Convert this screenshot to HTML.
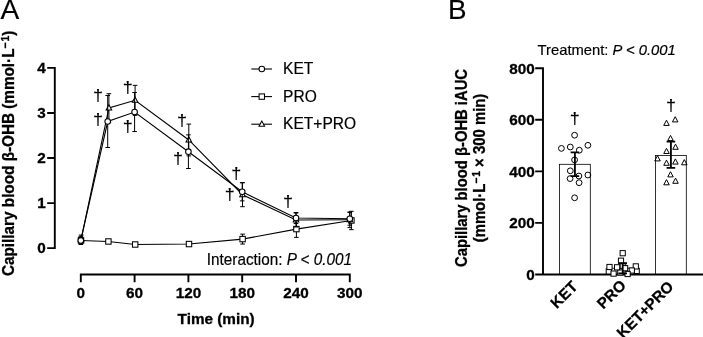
<!DOCTYPE html>
<html><head><meta charset="utf-8"><title>Figure</title>
<style>
html,body{margin:0;padding:0;background:#fff;}
body{width:703px;height:337px;overflow:hidden;}
svg{display:block;font-family:"Liberation Sans",Arial,sans-serif;fill:#000;}
.b{font-weight:bold;font-size:15px;}
.r{font-size:15px;}
.ax{stroke:#000;stroke-width:1.9;fill:none;stroke-linecap:butt;}
.ln{stroke:#000;stroke-width:1.1;fill:none;}
.eb{stroke:#000;stroke-width:1;fill:none;}
.sy{stroke:#000;stroke-width:1.05;fill:#fff;}
.sb{stroke:#000;stroke-width:1;fill:none;}
.bar{stroke:#000;stroke-width:0.8;fill:#fff;}
.ebb{stroke:#000;stroke-width:1.85;fill:none;}
</style></head><body>
<svg width="703" height="337" viewBox="0 0 703 337">
<rect x="0" y="0" width="703" height="337" fill="#fff"/>

<text transform="translate(0.50,19.40) scale(1.0,0.99)" text-anchor="start" font-size="28.1" stroke="#000" stroke-width="0.18">A</text>
<text transform="translate(448.00,19.40) scale(1.0,0.99)" text-anchor="start" font-size="27.8" stroke="#000" stroke-width="0.18">B</text>
<path class="ax" d="M47.2,67.9H55.55M47.2,113.0H55.55M47.2,158.0H55.55M47.2,203.1H55.55M47.2,248.1H55.55M54.8,66.95V249.05"/>
<path class="ax" d="M79.85,274.5H350.75M80.80,274.5V282.3M134.60,274.5V282.3M188.40,274.5V282.3M242.20,274.5V282.3M296.00,274.5V282.3M349.80,274.5V282.3"/>
<text transform="translate(45.70,253.35) scale(1.0,1.0)" text-anchor="end" font-size="15.3" font-weight="bold" stroke="#000" stroke-width="0.3">0</text>
<text transform="translate(45.70,208.30) scale(1.0,1.0)" text-anchor="end" font-size="15.3" font-weight="bold" stroke="#000" stroke-width="0.3">1</text>
<text transform="translate(45.70,163.25) scale(1.0,1.0)" text-anchor="end" font-size="15.3" font-weight="bold" stroke="#000" stroke-width="0.3">2</text>
<text transform="translate(45.70,118.20) scale(1.0,1.0)" text-anchor="end" font-size="15.3" font-weight="bold" stroke="#000" stroke-width="0.3">3</text>
<text transform="translate(45.70,73.15) scale(1.0,1.0)" text-anchor="end" font-size="15.3" font-weight="bold" stroke="#000" stroke-width="0.3">4</text>
<text transform="translate(80.80,297.60) scale(1.0,1.0)" text-anchor="middle" font-size="15.3" font-weight="bold" stroke="#000" stroke-width="0.3">0</text>
<text transform="translate(134.60,297.60) scale(1.0,1.0)" text-anchor="middle" font-size="15.3" font-weight="bold" stroke="#000" stroke-width="0.3">60</text>
<text transform="translate(188.40,297.60) scale(1.0,1.0)" text-anchor="middle" font-size="15.3" font-weight="bold" stroke="#000" stroke-width="0.3">120</text>
<text transform="translate(242.20,297.60) scale(1.0,1.0)" text-anchor="middle" font-size="15.3" font-weight="bold" stroke="#000" stroke-width="0.3">180</text>
<text transform="translate(296.00,297.60) scale(1.0,1.0)" text-anchor="middle" font-size="15.3" font-weight="bold" stroke="#000" stroke-width="0.3">240</text>
<text transform="translate(349.80,297.60) scale(1.0,1.0)" text-anchor="middle" font-size="15.3" font-weight="bold" stroke="#000" stroke-width="0.3">300</text>
<text transform="translate(216.10,323.60) scale(1.0,1.0)" text-anchor="middle" font-size="15.3" font-weight="bold" stroke="#000" stroke-width="0.3">Time (min)</text>
<text transform="translate(14.20,153.30) rotate(-90) scale(1.0,1.05)" text-anchor="middle" font-size="15.3" font-weight="bold" stroke="#000" stroke-width="0.3">Capillary blood β-OHB (mmol·L<tspan dy="-4.9" font-size="10.4">−<tspan dx="0.9">1</tspan></tspan><tspan dy="4.9">)</tspan></text>
<text transform="translate(352.00,265.30) scale(1.0,1.04)" text-anchor="end" font-size="15.3" stroke="#000" stroke-width="0.18">Interaction: <tspan font-style="italic">P &lt; 0.001</tspan></text>
<path class="ln" d="M251.3,69.00H272"/>
<circle class="sy" cx="261.8" cy="69.00" r="2.8"/>
<text transform="translate(283.10,74.15) scale(1.037,1.04)" text-anchor="start" font-size="15.0" stroke="#000" stroke-width="0.18">KET</text>
<path class="ln" d="M251.3,96.60H272"/>
<rect class="sy" x="259.1" y="93.90" width="5.4" height="5.4"/>
<text transform="translate(283.10,101.75) scale(1.037,1.04)" text-anchor="start" font-size="15.0" stroke="#000" stroke-width="0.18">PRO</text>
<path class="ln" d="M251.3,124.20H272"/>
<path class="sy" d="M261.8,121.00L264.6,126.20H259.0Z"/>
<text transform="translate(283.10,129.35) scale(1.037,1.04)" text-anchor="start" font-size="15.0" stroke="#000" stroke-width="0.18">KET+PRO</text>
<path class="eb" d="M81.00,237.29V243.59M78.70,237.29h4.6M78.70,243.59h4.6M108.40,240.13V242.83M106.10,240.13h4.6M106.10,242.83h4.6M135.20,243.59V245.40M132.90,243.59h4.6M132.90,245.40h4.6M189.00,243.14V244.95M186.70,243.14h4.6M186.70,244.95h4.6M242.60,234.13V244.05M240.30,234.13h4.6M240.30,244.05h4.6M296.40,220.80V237.38M294.10,220.80h4.6M294.10,237.38h4.6M351.40,211.29V229.67M349.10,211.29h4.6M349.10,229.67h4.6"/>
<path class="ln" d="M81.00,240.44L108.40,241.48L135.20,244.50L189.00,244.05L242.60,239.09L296.40,229.09L351.40,220.48"/>
<rect class="sy" x="78.30" y="237.74" width="5.4" height="5.4"/>
<rect class="sy" x="105.70" y="238.78" width="5.4" height="5.4"/>
<rect class="sy" x="132.50" y="241.80" width="5.4" height="5.4"/>
<rect class="sy" x="186.30" y="241.35" width="5.4" height="5.4"/>
<rect class="sy" x="239.90" y="236.39" width="5.4" height="5.4"/>
<rect class="sy" x="293.70" y="226.39" width="5.4" height="5.4"/>
<rect class="sy" x="348.70" y="217.78" width="5.4" height="5.4"/>
<path class="eb" d="M81.20,235.04V242.69M78.90,235.04h4.6M78.90,242.69h4.6M108.90,93.71V122.28M106.60,93.71h4.6M106.60,122.28h4.6M135.10,85.33V115.34M132.80,85.33h4.6M132.80,115.34h4.6M188.80,124.08V155.88M186.50,124.08h4.6M186.50,155.88h4.6M242.50,182.73V206.70M240.20,182.73h4.6M240.20,206.70h4.6M296.00,213.01V226.97M293.70,213.01h4.6M293.70,226.97h4.6M349.80,212.01V227.60M347.50,212.01h4.6M347.50,227.60h4.6"/>
<path class="ln" d="M81.20,238.86L108.90,107.99L135.10,100.34L188.80,139.98L242.50,194.72L296.00,219.99L349.80,219.81"/>
<path class="sy" d="M81.20,235.66L84.00,240.86H78.40Z"/>
<path class="sy" d="M108.90,104.79L111.70,109.99H106.10Z"/>
<path class="sy" d="M135.10,97.14L137.90,102.34H132.30Z"/>
<path class="sy" d="M188.80,136.78L191.60,141.98H186.00Z"/>
<path class="sy" d="M242.50,191.52L245.30,196.72H239.70Z"/>
<path class="sy" d="M296.00,216.79L298.80,221.99H293.20Z"/>
<path class="sy" d="M349.80,216.61L352.60,221.81H347.00Z"/>
<path class="eb" d="M80.80,236.39V244.50M78.50,236.39h4.6M78.50,244.50h4.6M107.70,95.52V147.50M105.40,95.52h4.6M105.40,147.50h4.6M134.60,92.54V131.56M132.30,92.54h4.6M132.30,131.56h4.6M188.40,134.89V168.50M186.10,134.89h4.6M186.10,168.50h4.6M242.20,182.69V200.89M239.90,182.69h4.6M239.90,200.89h4.6M296.00,212.56V223.55M293.70,212.56h4.6M293.70,223.55h4.6M349.80,212.42V225.21M347.50,212.42h4.6M347.50,225.21h4.6"/>
<path class="ln" d="M80.80,240.44L107.70,121.51L134.60,112.05L188.40,151.69L242.20,191.79L296.00,218.05L349.80,218.82"/>
<circle class="sy" cx="80.80" cy="240.44" r="2.8"/>
<circle class="sy" cx="107.70" cy="121.51" r="2.8"/>
<circle class="sy" cx="134.60" cy="112.05" r="2.8"/>
<circle class="sy" cx="188.40" cy="151.69" r="2.8"/>
<circle class="sy" cx="242.20" cy="191.79" r="2.8"/>
<circle class="sy" cx="296.00" cy="218.05" r="2.8"/>
<circle class="sy" cx="349.80" cy="218.82" r="2.8"/>
<text transform="translate(97.90,100.75) scale(1.0,0.91)" text-anchor="middle" font-size="18" stroke="#000" stroke-width="0.18">†</text>
<text transform="translate(97.90,125.25) scale(1.0,0.91)" text-anchor="middle" font-size="18" stroke="#000" stroke-width="0.18">†</text>
<text transform="translate(127.80,92.75) scale(1.0,0.91)" text-anchor="middle" font-size="18" stroke="#000" stroke-width="0.18">†</text>
<text transform="translate(127.80,131.55) scale(1.0,0.91)" text-anchor="middle" font-size="18" stroke="#000" stroke-width="0.18">†</text>
<text transform="translate(182.10,126.15) scale(1.0,0.91)" text-anchor="middle" font-size="18" stroke="#000" stroke-width="0.18">†</text>
<text transform="translate(177.90,164.05) scale(1.0,0.91)" text-anchor="middle" font-size="18" stroke="#000" stroke-width="0.18">†</text>
<text transform="translate(236.20,178.75) scale(1.0,0.91)" text-anchor="middle" font-size="18" stroke="#000" stroke-width="0.18">†</text>
<text transform="translate(229.80,199.95) scale(1.0,0.91)" text-anchor="middle" font-size="18" stroke="#000" stroke-width="0.18">†</text>
<text transform="translate(288.10,207.05) scale(1.0,0.91)" text-anchor="middle" font-size="18" stroke="#000" stroke-width="0.18">†</text>
<text transform="translate(534.70,279.65) scale(1.0,1.0)" text-anchor="end" font-size="15.3" font-weight="bold" stroke="#000" stroke-width="0.3">0</text>
<text transform="translate(534.70,228.12) scale(1.0,1.0)" text-anchor="end" font-size="15.3" font-weight="bold" stroke="#000" stroke-width="0.3">200</text>
<text transform="translate(534.70,176.60) scale(1.0,1.0)" text-anchor="end" font-size="15.3" font-weight="bold" stroke="#000" stroke-width="0.3">400</text>
<text transform="translate(534.70,125.07) scale(1.0,1.0)" text-anchor="end" font-size="15.3" font-weight="bold" stroke="#000" stroke-width="0.3">600</text>
<text transform="translate(534.70,73.55) scale(1.0,1.0)" text-anchor="end" font-size="15.3" font-weight="bold" stroke="#000" stroke-width="0.3">800</text>
<text transform="translate(537.60,54.80) scale(1.0,1.05)" text-anchor="start" font-size="14.78" stroke="#000" stroke-width="0.18">Treatment: <tspan font-style="italic">P &lt; 0.001</tspan></text>
<text transform="translate(466.50,168.00) rotate(-90) scale(1.0,1.09)" text-anchor="middle" font-size="14.8" font-weight="bold" stroke="#000" stroke-width="0.3">Capillary blood β-OHB iAUC</text>
<text transform="translate(485.30,168.00) rotate(-90) scale(1.0,1.06)" text-anchor="middle" font-size="14.9" font-weight="bold" stroke="#000" stroke-width="0.3">(mmol·L<tspan dy="-4.9" font-size="10.2">−<tspan dx="0.9">1</tspan></tspan><tspan dy="4.9"> × 300 min)</tspan></text>
<rect class="bar" x="559.5" y="164.3" width="30.8" height="110.1"/>
<rect class="bar" x="607.3" y="268.2" width="30.8" height="6.2"/>
<rect class="bar" x="655.5" y="155.4" width="30.8" height="119.0"/>
<path class="ax" d="M535.2,274.40H543.75M535.2,222.87H543.75M535.2,171.35H543.75M535.2,119.82H543.75M535.2,68.30H543.75M543,67.35V275.50M535.2,274.54999999999995H703"/>
<circle class="sb" cx="574.6" cy="135.2" r="2.9"/>
<circle class="sb" cx="587.9" cy="145.3" r="2.9"/>
<circle class="sb" cx="570.3" cy="147" r="2.9"/>
<circle class="sb" cx="561.4" cy="148.4" r="2.9"/>
<circle class="sb" cx="579.3" cy="150.2" r="2.9"/>
<circle class="sb" cx="574.6" cy="159.9" r="2.9"/>
<circle class="sb" cx="570.3" cy="170.8" r="2.9"/>
<circle class="sb" cx="578.9" cy="176" r="2.9"/>
<circle class="sb" cx="587.9" cy="175" r="2.9"/>
<circle class="sb" cx="570.1" cy="178.6" r="2.9"/>
<circle class="sb" cx="579.1" cy="182.7" r="2.9"/>
<circle class="sb" cx="574.6" cy="197.8" r="2.9"/>
<rect class="sb" style="fill:#fff" x="606.2" y="268.8" width="5.2" height="5.2"/>
<rect class="sb" style="fill:#fff" x="634.1" y="268.3" width="5.2" height="5.2"/>
<rect class="sb" style="fill:#fff" x="617.7" y="269.9" width="5.2" height="5.2"/>
<rect class="sb" style="fill:#fff" x="620.1" y="263.2" width="5.2" height="5.2"/>
<rect class="sb" style="fill:#fff" x="606.9" y="264.4" width="5.2" height="5.2"/>
<rect class="sb" style="fill:#fff" x="614.5" y="264.7" width="5.2" height="5.2"/>
<rect class="sb" style="fill:#fff" x="633.2" y="263.8" width="5.2" height="5.2"/>
<rect class="sb" style="fill:#fff" x="622.5" y="265.6" width="5.2" height="5.2"/>
<rect class="sb" style="fill:#fff" x="629.2" y="267.9" width="5.2" height="5.2"/>
<rect class="sb" style="fill:#fff" x="611.0" y="271.0" width="5.2" height="5.2"/>
<rect class="sb" style="fill:#fff" x="625.0" y="271.4" width="5.2" height="5.2"/>
<rect class="sb" style="fill:#fff" x="618.4" y="258.1" width="5.2" height="5.2"/>
<rect class="sb" style="fill:#fff" x="620.1" y="250.6" width="5.2" height="5.2"/>
<path class="sb" d="M675.2,116.7L677.95,121.9H672.45Z"/>
<path class="sb" d="M666.5,120.2L669.25,125.4H663.75Z"/>
<path class="sb" d="M670.5,135.4L673.25,140.6H667.75Z"/>
<path class="sb" d="M675.5,144.1L678.25,149.3H672.75Z"/>
<path class="sb" d="M666.5,148.3L669.25,153.5H663.75Z"/>
<path class="sb" d="M657.5,155.7L660.25,160.9H654.75Z"/>
<path class="sb" d="M666.5,160.1L669.25,165.3H663.75Z"/>
<path class="sb" d="M675.4,158.9L678.15,164.1H672.65Z"/>
<path class="sb" d="M684.3,159.6L687.05,164.8H681.55Z"/>
<path class="sb" d="M670.5,171.7L673.25,176.9H667.75Z"/>
<path class="sb" d="M675.5,178.1L678.25,183.3H672.75Z"/>
<path class="sb" d="M666.5,179.6L669.25,184.8H663.75Z"/>
<path class="ebb" d="M574.9,152.3V176.1M570.6,152.3h8.6M570.6,176.1h8.6"/>
<path class="ebb" d="M622.7,263.2V273.4M618.4000000000001,263.2h8.6M618.4000000000001,273.4h8.6"/>
<path class="ebb" d="M670.9,141.6V167.9M666.6,141.6h8.6M666.6,167.9h8.6"/>
<text transform="translate(574.70,124.05) scale(1.0,0.91)" text-anchor="middle" font-size="18" stroke="#000" stroke-width="0.18">†</text>
<text transform="translate(670.90,110.75) scale(1.0,0.91)" text-anchor="middle" font-size="18" stroke="#000" stroke-width="0.18">†</text>
<text transform="translate(578.50,287.50) rotate(-45) scale(1.0,1.0)" text-anchor="end" font-size="15.3" font-weight="bold" stroke="#000" stroke-width="0.3">KET</text>
<text transform="translate(626.80,286.40) rotate(-45) scale(1.0,1.0)" text-anchor="end" font-size="15.3" font-weight="bold" stroke="#000" stroke-width="0.3">PRO</text>
<text transform="translate(674.50,287.50) rotate(-45) scale(1.0,1.0)" text-anchor="end" font-size="15.3" font-weight="bold" stroke="#000" stroke-width="0.3">KET+PRO</text>
</svg></body></html>
